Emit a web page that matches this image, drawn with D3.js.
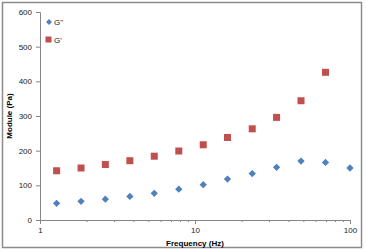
<!DOCTYPE html>
<html>
<head>
<meta charset="utf-8">
<script src="https://cdn.jsdelivr.net/npm/d3@7"></script>
<style>
  body { margin: 0; background: #fff; }
  text { font-family: "Liberation Sans", Arial, sans-serif; }
</style>
</head>
<body>
<div id="chart-area"></div>
<script>
// data
var freq = [1.28, 1.84, 2.64, 3.80, 5.46, 7.86, 11.3, 16.2, 23.4, 33.6, 48.3, 69.5, 100];
var gSecond = [48, 54, 60, 68, 77, 89, 102, 118, 134, 152, 170, 166, 150]; // G''
var gPrime = [142, 150, 160, 171, 184, 199, 217, 238, 263, 296, 344, 426]; // G'
var yTicks = [0, 100, 200, 300, 400, 500, 600];
var xTicks = [1, 10, 100];

var W = 366, H = 251;
var margin = { left: 40, right: 16, top: 12, bottom: 31 };

var svg = d3.select("#chart-area")
    .append("svg")
        .attr("width", W)
        .attr("height", H);

// outer chart border
svg.append("rect")
    .attr("x", 2.5).attr("y", 2.5)
    .attr("width", 359).attr("height", 245)
    .attr("fill", "#fff")
    .attr("stroke", "#8c8c8c")
    .attr("stroke-width", 1.5);

var x = d3.scaleLog().domain([1, 100]).range([margin.left, W - margin.right]);
var y = d3.scaleLinear().domain([0, 600]).range([H - margin.bottom, margin.top]);

var axisColor = "#868686";

// y axis
var yAxis = svg.append("g")
    .attr("transform", "translate(" + x(1) + ",0)")
    .call(d3.axisLeft(y).tickValues(yTicks).tickSize(4).tickPadding(4));
yAxis.select(".domain").attr("stroke", axisColor);
yAxis.selectAll(".tick line").attr("stroke", axisColor);
yAxis.selectAll("text").attr("font-size", 8).attr("fill", "#222");

// x axis, with minor ticks
var minor = [];
[1, 10].forEach(function(dec) {
    for (var k = 2; k <= 9; k++) minor.push(dec * k);
});
var xMinor = svg.append("g")
    .attr("transform", "translate(0," + y(0) + ")")
    .call(d3.axisBottom(x).tickValues(minor).tickSize(2).tickFormat(""));
xMinor.select(".domain").remove();
xMinor.selectAll(".tick line").attr("stroke", axisColor);

var xAxis = svg.append("g")
    .attr("transform", "translate(0," + y(0) + ")")
    .call(d3.axisBottom(x).tickValues(xTicks).tickSize(4).tickPadding(3)
        .tickFormat(d3.format("d")));
xAxis.select(".domain").attr("stroke", axisColor);
xAxis.selectAll(".tick line").attr("stroke", axisColor);
xAxis.selectAll("text").attr("font-size", 8).attr("fill", "#222");

// axis titles
svg.append("text")
    .attr("x", x(10))
    .attr("y", 246)
    .attr("text-anchor", "middle")
    .attr("font-size", 8)
    .attr("font-weight", "bold")
    .text("Frequency (Hz)");

svg.append("text")
    .attr("transform", "translate(12," + y(300) + ") rotate(-90)")
    .attr("text-anchor", "middle")
    .attr("font-size", 8)
    .attr("font-weight", "bold")
    .text("Module (Pa)");

// G'' series (blue diamonds)
var diamond = d3.symbol().type(d3.symbolDiamond2).size(34);
svg.append("g").selectAll("path")
    .data(gSecond)
    .join("path")
        .attr("d", diamond)
        .attr("transform", function(d, i) { return "translate(" + x(freq[i]) + "," + y(d) + ")"; })
        .attr("fill", "#4F81BD");

// G' series (red squares)
svg.append("g").selectAll("rect")
    .data(gPrime)
    .join("rect")
        .attr("x", function(d, i) { return x(freq[i]) - 3.5; })
        .attr("y", function(d) { return y(d) - 3.5; })
        .attr("width", 7)
        .attr("height", 7)
        .attr("fill", "#C0504D");

// legend
var legend = svg.append("g");
legend.append("path")
    .attr("d", d3.symbol().type(d3.symbolDiamond2).size(22))
    .attr("transform", "translate(49,22)")
    .attr("fill", "#4F81BD");
legend.append("text")
    .attr("x", 54).attr("y", 25)
    .attr("font-size", 8).attr("fill", "#222")
    .text("G''");
legend.append("rect")
    .attr("x", 45.5).attr("y", 36.5)
    .attr("width", 6).attr("height", 6)
    .attr("fill", "#C0504D");
legend.append("text")
    .attr("x", 54).attr("y", 43)
    .attr("font-size", 8).attr("fill", "#222")
    .text("G'");
</script>
</body>
</html>
